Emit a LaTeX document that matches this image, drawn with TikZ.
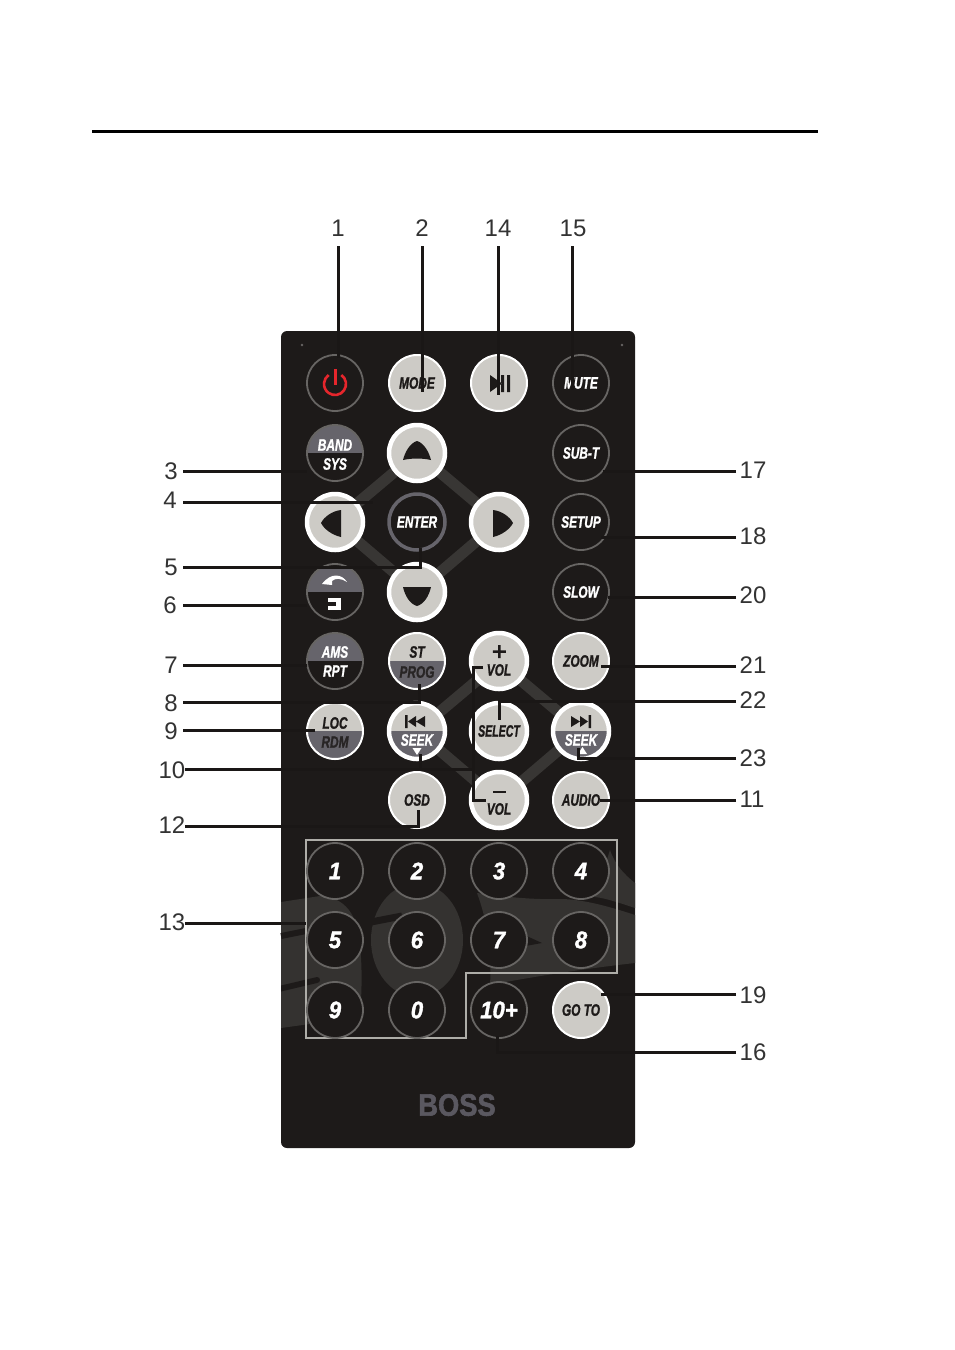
\documentclass[tikz,border=0pt]{standalone}
\usepackage{fontspec}
\usepackage{graphicx}
\setmainfont{Liberation Sans}
\newfontfamily\keyf[BoldItalicFeatures={FakeBold=1.6},BoldFeatures={FakeBold=2}]{Liberation Sans}
\definecolor{panel}{HTML}{1D1A19}
\definecolor{leadc}{HTML}{1A1716}
\definecolor{wm}{HTML}{343230}
\definecolor{band}{HTML}{383634}
\definecolor{ringc}{HTML}{676563}
\definecolor{key}{HTML}{CDCBC6}
\definecolor{slate}{HTML}{66646B}
\definecolor{numc}{HTML}{333333}
\definecolor{logo}{HTML}{5A5860}
\definecolor{pwr}{HTML}{E5262C}
\newcommand\blab[2][.72]{\scalebox{#1}[1]{\keyf\fontsize{16.5}{16.5}\selectfont\bfseries\itshape #2}}
\newcommand\dlab[1]{\scalebox{.92}[1]{\keyf\fontsize{24}{24}\selectfont\bfseries\itshape #1}}
\tikzset{
  x=1pt,y=-1pt,
  base/.style={circle,inner sep=0pt,outer sep=0pt},
  dk/.style={base,minimum size=56pt,fill=panel,draw=ringc,line width=1.8pt,text=white},
  lt/.style={base,minimum size=56pt,fill=key,draw=white,line width=2pt,text=panel},
  big/.style={base,minimum size=56pt,fill=key,draw=white,line width=4.5pt,text=panel},
  uppersplit/.style={path picture={\fill[slate] (-40,-40) rectangle (40,0);}},
  lowersplit/.style={path picture={\fill[slate] (-40,0) rectangle (40,40);}},
  lead/.style={draw=leadc,line width=3pt},
  numlab/.style={inner sep=0pt,text=numc,font=\fontsize{24}{24}\selectfont},
  tw/.style={inner sep=0pt,text=white},
  tk/.style={inner sep=0pt,text=panel},
  ts/.style={inner sep=0pt,text=panel!85!slate},
}
\begin{document}
\begin{tikzpicture}
\useasboundingbox (0,0) rectangle (954,1350);
\fill[white] (0,0) rectangle (954,1350);
% top rule
\coordinate (ruleL) at (92,131); \coordinate (ruleR) at (818,131);
\draw[black,line width=3pt] (ruleL) -- (ruleR);
% panel
\fill[panel,rounded corners=6pt] (281,331) rectangle (635,1148);
\fill[ringc] (302,345) circle (1.3) (622,345) circle (1.3);
% watermark
\fill[wm] (281,902) -- (320,896) .. controls (345,897) and (358,915) .. (360,945)
  .. controls (363,975) and (361,1000) .. (360,1017) -- (281,1028) -- cycle;
\draw[panel,line width=6pt] (281,936) -- (306,931);
\fill[panel] (281,985.5) -- (317,977) .. controls (321,977) and (321,983) .. (317,983) -- (281,991.5) -- cycle;
\fill[wm] (417,940) ellipse (46 and 57);
\draw[panel,line width=7pt] (371,922) -- (402,916);
\fill[wm] (477,893) .. controls (500,896) and (530,900) .. (560,899)
  .. controls (580,899) and (605,905) .. (635,915) -- (635,963)
  .. controls (590,968) and (530,977) .. (490,985)
  .. controls (492,950) and (487,920) .. (477,893) -- cycle;
\fill[panel] (520,933) -- (542,943) -- (520,947) -- cycle;
\fill[wm] (610,850) .. controls (615,865) and (625,875) .. (635,883) -- (635,908)
  .. controls (620,903) and (605,898) .. (595,897) -- cycle;
% diamonds
\foreach \cx/\cy in {417/522,499/731}{
  \draw[band,line width=11pt] (\cx,\cy-69) -- (\cx+82,\cy) -- (\cx,\cy+70) -- (\cx-82,\cy) -- cycle;
}
% numeric outline
\draw[key!85!black,line width=1.5pt] (306,840) -- (617,840) -- (617,973) -- (466,973) -- (466,1038) -- (306,1038) -- cycle;
% row 1
\node[dk] (power) at (335,383) {};
\draw[pwr,line width=2.6pt] (335,384) ++(-55:11) arc (-55:235:11);
\draw[pwr,line width=3pt] (335,369) -- (335,385);
\node[lt] (mode) at (417,383) {\blab{MODE}};
\node[lt] (play) at (499,383) {};
\fill[panel] (490,375) -- (502,383.5) -- (490,392) -- cycle (501,375) rectangle (504,392) (507,375) rectangle (510,392);
\node[dk] (mute) at (581,383) {\blab{MUTE}};
% row 2
\node[dk,uppersplit] (bandb) at (335,453) {};
\node[tw] (bandt) at (335,445) {\blab{BAND}};
\node[tw] (syst) at (335,464) {\blab{SYS}};
\node[big] (up) at (417,453) {};
\fill[panel] (417,441) .. controls (424,443) and (429,452) .. (431,460) .. controls (422,458) and (412,458) .. (403,460) .. controls (405,452) and (410,443) .. (417,441) -- cycle;
\node[dk] (subt) at (581,453) {\blab{SUB-T}};
% row 3
\node[big] (left) at (335,522) {};
\fill[panel] (321,523) .. controls (324,517) and (332,511) .. (341,510) -- (341,537) .. controls (332,535) and (324,529) .. (321,523) -- cycle;
\node[base,minimum size=56pt,fill=panel,draw=slate,line width=3.5pt,text=white] (enter) at (417,522) {\blab{ENTER}};
\node[big] (right) at (499,522) {};
\fill[panel] (513,523) .. controls (510,517) and (502,511) .. (493,510) -- (493,537) .. controls (502,535) and (510,529) .. (513,523) -- cycle;
\node[dk] (setup) at (581,522) {\blab{SETUP}};
% row 4
\node[dk,path picture={\fill[slate] (-40,-25) rectangle (40,0);}] (back) at (335,592) {};
\fill[white] (322,584) .. controls (331,572) and (342,574) .. (347,582) .. controls (341,578) and (335,578) .. (332,581) -- (332,585) -- cycle;
\fill[white] (328,598) rectangle (341,610);
\fill[panel] (328,601.5) rectangle (336,606);
\node[big] (down) at (417,592) {};
\fill[panel] (417,606) .. controls (424,604) and (429,596) .. (431,587) -- (403,587) .. controls (405,596) and (410,604) .. (417,606) -- cycle;
\node[dk] (slow) at (581,592) {\blab{SLOW}};
% row 5
\node[dk,uppersplit] (amsb) at (335,661) {};
\node[tw] (amst) at (335,652) {\blab{AMS}};
\node[tw] (rptt) at (335,671) {\blab{RPT}};
\node[lt,lowersplit] (stb) at (417,661) {};
\node[tk] (stt) at (417,652) {\blab{ST}};
\node[ts] (progt) at (417,672) {\blab{PROG}};
\node[big] (volup) at (499,661) {};
\fill[panel] (498,645) rectangle (500.5,658) (492.8,650.3) rectangle (505.8,652.8);
\node[tk] (volupt) at (499,670) {\blab{VOL}};
\node[lt] (zoomb) at (581,661) {\blab{ZOOM}};
% row 6
\node[lt,lowersplit] (locb) at (335,731) {};
\node[tk] (loct) at (335,723) {\blab{LOC}};
\node[ts] (rdmt) at (335,742) {\blab{RDM}};
\node[big,lowersplit] (seekl) at (417,731) {};
\fill[panel] (405,715) rectangle (407.5,728) (408,721.5) -- (416,716) -- (416,727) -- cycle (416,721.5) -- (425,716) -- (425,727) -- cycle;
\node[tw] (seeklt) at (417,740) {\blab{SEEK}};
\fill[white] (412.5,748) -- (421.5,748) -- (417,755) -- cycle;
\node[big] (select) at (499,731) {\blab[.64]{SELECT}};
\node[big,lowersplit] (seekr) at (581,731) {};
\fill[panel] (588.5,715) rectangle (591,728) (588,721.5) -- (580,716) -- (580,727) -- cycle (580,721.5) -- (571,716) -- (571,727) -- cycle;
\node[tw] (seekrt) at (581,740) {\blab{SEEK}};
\fill[white] (578,754) -- (587,754) -- (582.5,747) -- cycle;
% row 7
\node[lt] (osd) at (417,800) {\blab{OSD}};
\node[big] (voldn) at (499,800) {};
\fill[panel] (492.8,791) rectangle (505.8,793.3);
\node[tk] (voldnt) at (499,809) {\blab{VOL}};
\node[lt] (audio) at (581,800) {\blab{AUDIO}};
% number keys
\foreach \nam/\t/\px/\py in {n1/1/335/871,n2/2/417/871,n3/3/499/871,n4/4/581/871,n5/5/335/940,n6/6/417/940,n7/7/499/940,n8/8/581/940,n9/9/335/1010,n0/0/417/1010,nten/10+/499/1010}{
  \node[dk] (\nam) at (\px,\py) {\dlab{\t}};
}
\node[lt] (goto) at (581,1010) {\blab{GO TO}};
% logo
\node[inner sep=0pt,text=logo] (bosslogo) at (457,1105) {\scalebox{.88}[1]{\keyf\fontsize{31}{31}\selectfont\bfseries BOSS}};
% labels
\foreach \nam/\t/\px/\py in {l1/1/338/228,l2/2/422/228,l14/14/498/228,l15/15/573/228,
  l3/3/171/471,l4/4/170/500,l5/5/171/567,l6/6/170/605,l7/7/171/665,l8/8/171/703,l9/9/171/731,l10/10/172/770,l12/12/172/825,l13/13/172/922,
  l17/17/753/470,l18/18/753/536,l20/20/753/595,l21/21/753/665,l22/22/753/700,l23/23/753/758,l11/11/752/799,l19/19/753/995,l16/16/753/1052}{
  \node[numlab] (\nam) at (\px,\py) {\t};
}
% connector end points
\coordinate (t1) at (338,246); \coordinate (e1) at (338,358);
\coordinate (t2) at (422,246); \coordinate (e2) at (422,392);
\coordinate (t14) at (498,246); \coordinate (e14) at (498,395);
\coordinate (t15) at (572,246); \coordinate (e15) at (572,390);
\coordinate (s3) at (183,471); \coordinate (e3) at (307,471);
\coordinate (s4) at (183,502); \coordinate (e4) at (373,502);
\coordinate (s5) at (183,567); \coordinate (c5) at (420,567); \coordinate (e5) at (420,548);
\coordinate (s6) at (183,605); \coordinate (e6) at (307,605);
\coordinate (s7) at (183,665); \coordinate (e7) at (307,665);
\coordinate (s8) at (183,702); \coordinate (c8) at (419,702); \coordinate (e8) at (419,684);
\coordinate (s9) at (183,730); \coordinate (e9) at (315,730);
\coordinate (s10) at (185,769); \coordinate (c10) at (473,769); \coordinate (b10a) at (473,667); \coordinate (b10b) at (483,667); \coordinate (b10c) at (473,800); \coordinate (b10d) at (486,800); \coordinate (c10b) at (420,769); \coordinate (e10b) at (420,754);
\coordinate (s12) at (185,826); \coordinate (c12) at (418,826); \coordinate (e12) at (418,810);
\coordinate (s13) at (185,923); \coordinate (e13) at (306,923);
\coordinate (s17) at (736,471); \coordinate (e17) at (603,471);
\coordinate (s18) at (736,537); \coordinate (e18) at (601,537);
\coordinate (s20) at (736,597); \coordinate (e20) at (608,597);
\coordinate (s21) at (736,666); \coordinate (e21) at (601,666);
\coordinate (s22) at (736,701); \coordinate (c22) at (499,701); \coordinate (e22) at (499,720);
\coordinate (s23) at (736,758); \coordinate (c23) at (578,758); \coordinate (e23) at (578,748);
\coordinate (s11) at (736,800); \coordinate (e11) at (600,800);
\coordinate (s19) at (736,994); \coordinate (e19) at (601,994);
\coordinate (s16) at (736,1052); \coordinate (c16) at (497,1052); \coordinate (e16) at (497,1036);
% connectors
\draw[lead] (t1) -- (e1); \draw[lead] (t2) -- (e2); \draw[lead] (t14) -- (e14); \draw[lead] (t15) -- (e15);
\draw[lead] (s3) -- (e3); \draw[lead] (s4) -- (e4); \draw[lead] (s5) -- (c5) -- (e5);
\draw[lead] (s6) -- (e6); \draw[lead] (s7) -- (e7); \draw[lead] (s8) -- (c8) -- (e8);
\draw[lead] (s9) -- (e9); \draw[lead] (s10) -- (c10);
\draw[lead] (b10b) -- (b10a) -- (b10c) -- (b10d); \draw[lead] (c10b) -- (e10b);
\draw[lead] (s12) -- (c12) -- (e12); \draw[lead] (s13) -- (e13);
\draw[lead] (s17) -- (e17); \draw[lead] (s18) -- (e18); \draw[lead] (s20) -- (e20); \draw[lead] (s21) -- (e21);
\draw[lead] (s22) -- (c22) -- (e22); \draw[lead] (s23) -- (c23) -- (e23); \draw[lead] (s11) -- (e11);
\draw[lead] (s19) -- (e19); \draw[lead] (s16) -- (c16) -- (e16);
\end{tikzpicture}
\end{document}
